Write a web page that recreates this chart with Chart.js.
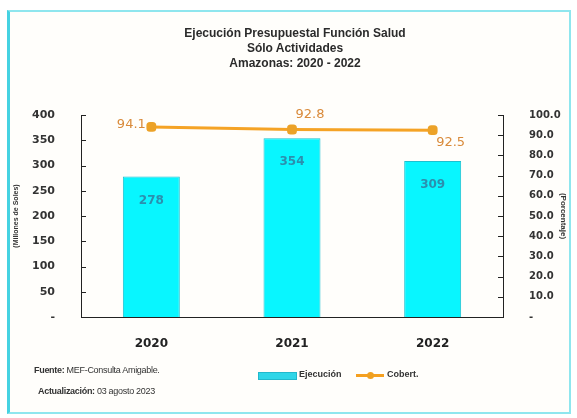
<!DOCTYPE html>
<html>
<head>
<meta charset="utf-8">
<script src="https://cdn.jsdelivr.net/npm/chart.js@4"></script>
<style>
  html, body { margin: 0; padding: 0; background: #fff; }
  #wrap { position: relative; width: 577px; height: 418px; overflow: hidden; }
  #frame { position: absolute; left: 7px; top: 10px; width: 559px; height: 400px;
    border: 2px solid #8fe6ee; border-left: 3px solid #45d2e2; background: #fffefb; }
  canvas { position: absolute; left: 0; top: 0; }
  .title { position: absolute; left: 0; width: 590px; text-align: center;
    font: bold 12px "Liberation Sans", Arial, sans-serif; color: #2b2b2b; }
  .foot { position: absolute; font: 9px "Liberation Sans", sans-serif; color: #333; letter-spacing: -0.3px; }
  .foot b { font-weight: bold; }
  .leg { position: absolute; font: bold 9px "Liberation Sans", sans-serif; color: #333; }
</style>
</head>
<body>
<div id="wrap">
  <div id="frame"></div>
  <canvas id="chart" width="577" height="418"></canvas>
  <div class="title" style="top:26px">Ejecución Presupuestal Función Salud</div>
  <div class="title" style="top:41px">Sólo Actividades</div>
  <div class="title" style="top:56px">Amazonas: 2020 - 2022</div>
  <div class="foot" style="left:34px;top:365px"><b>Fuente:</b> MEF-Consulta Amigable.</div>
  <div class="foot" style="left:38px;top:386px"><b>Actualización:</b> 03 agosto 2023</div>
  <div style="position:absolute;left:258px;top:372px;width:37px;height:6px;background:#2fd6e8;border:1px solid #22b8cc"></div>
  <div class="leg" style="left:299px;top:369px">Ejecución</div>
  <div style="position:absolute;left:356px;top:374px;width:28px;height:3px;background:#f5a020"></div>
  <div style="position:absolute;left:367px;top:372px;width:7px;height:7px;border-radius:50%;background:#f0a020"></div>
  <div class="leg" style="left:387px;top:369px">Cobert.</div>
</div>
<script>
const years = ['2020', '2021', '2022'];
const ejecucion = [278, 354, 309];
const cobertura = [94.1, 92.8, 92.5];
const leftTicks = [0, 50, 100, 150, 200, 250, 300, 350, 400];

// offsets of the coverage labels from their points
const lineLabelOffsets = [[-20, -2], [18, -15], [18, 12]];

const valueLabels = {
  id: 'valueLabels',
  afterDatasetsDraw(chart) {
    const ctx = chart.ctx;
    ctx.save();
    ctx.textAlign = 'center';
    ctx.textBaseline = 'middle';
    chart.getDatasetMeta(0).data.forEach((bar, i) => {
      ctx.font = 'bold 12px "DejaVu Sans", sans-serif';
      ctx.fillStyle = '#2b8fae';
      ctx.fillText(ejecucion[i], bar.x, bar.y + 24);
    });
    chart.getDatasetMeta(1).data.forEach((pt, i) => {
      ctx.font = '13px "DejaVu Sans", sans-serif';
      ctx.fillStyle = '#d98a3a';
      const o = lineLabelOffsets[i];
      ctx.fillText(cobertura[i].toFixed(1), pt.x + o[0], pt.y + o[1]);
    });
    ctx.restore();
  }
};

// small tick marks drawn inside the plot, as in the original
const innerTicks = {
  id: 'innerTicks',
  afterDraw(chart) {
    const ctx = chart.ctx;
    const y = chart.scales.y, y1 = chart.scales.y1;
    ctx.save();
    ctx.strokeStyle = '#222';
    ctx.lineWidth = 1;
    y.ticks.forEach(t => {
      const py = Math.round(y.getPixelForValue(t.value)) + 0.5;
      ctx.beginPath(); ctx.moveTo(y.right, py); ctx.lineTo(y.right + 5, py); ctx.stroke();
    });
    y1.ticks.forEach(t => {
      const py = Math.round(y1.getPixelForValue(t.value)) + 0.5;
      ctx.beginPath(); ctx.moveTo(y1.left, py); ctx.lineTo(y1.left - 5, py); ctx.stroke();
    });
    ctx.restore();
  }
};

new Chart(document.getElementById('chart'), {
  data: {
    labels: years,
    datasets: [
      {
        type: 'bar',
        label: 'Ejecución',
        data: ejecucion,
        yAxisID: 'y',
        backgroundColor: '#08f6ff',
        borderColor: '#1cc0d0',
        borderWidth: 1,
        barPercentage: 0.405,
        categoryPercentage: 1,
        order: 2
      },
      {
        type: 'line',
        label: 'Cobert.',
        data: cobertura,
        yAxisID: 'y1',
        borderColor: '#f5a325',
        borderWidth: 3,
        pointRadius: 4,
        pointStyle: 'rectRounded',
        pointBackgroundColor: '#eca228',
        pointBorderColor: '#eca228',
        order: 1
      }
    ]
  },
  options: {
    responsive: false,
    animation: false,
    layout: { padding: { left: 12, right: 9, top: 115, bottom: 0 } },
    plugins: {
      legend: { display: false },
      title: { display: false },
      tooltip: { enabled: false }
    },
    scales: {
      x: {
        grid: { display: false },
        border: { display: true, color: '#222', width: 1 },
        ticks: { color: '#222', padding: 12, font: { family: 'DejaVu Sans', weight: 'bold', size: 12 } },
        afterFit: s => { s.height = 101; }
      },
      y: {
        position: 'left',
        min: 0, max: 400,
        afterBuildTicks: s => { s.ticks = leftTicks.map(v => ({ value: v })); },
        grid: { display: false },
        border: { display: true, color: '#222', width: 1 },
        ticks: {
          color: '#333', padding: 18,
          font: { family: 'DejaVu Sans', weight: 'bold', size: 11 },
          callback: v => v === 0 ? '-' : v
        },
        title: { display: true, text: '(Millones de Soles)', color: '#333', padding: 0,
          font: { family: 'Liberation Sans', weight: 'bold', size: 7 } },
        afterFit: s => { s.width = 69; }
      },
      y1: {
        position: 'right',
        min: 0, max: 100,
        ticks: {
          stepSize: 10, color: '#333', padding: 18,
          font: { family: 'DejaVu Sans', weight: 'bold', size: 10 },
          callback: v => v === 0 ? '-' : v.toFixed(1)
        },
        grid: { display: false },
        border: { display: true, color: '#222', width: 1 },
        title: { display: true, text: '(Porcentaje)', color: '#333', padding: 0,
          font: { family: 'Liberation Sans', weight: 'bold', size: 8 } },
        afterFit: s => { s.width = 65; }
      }
    }
  },
  plugins: [valueLabels, innerTicks]
});
</script>
</body>
</html>
